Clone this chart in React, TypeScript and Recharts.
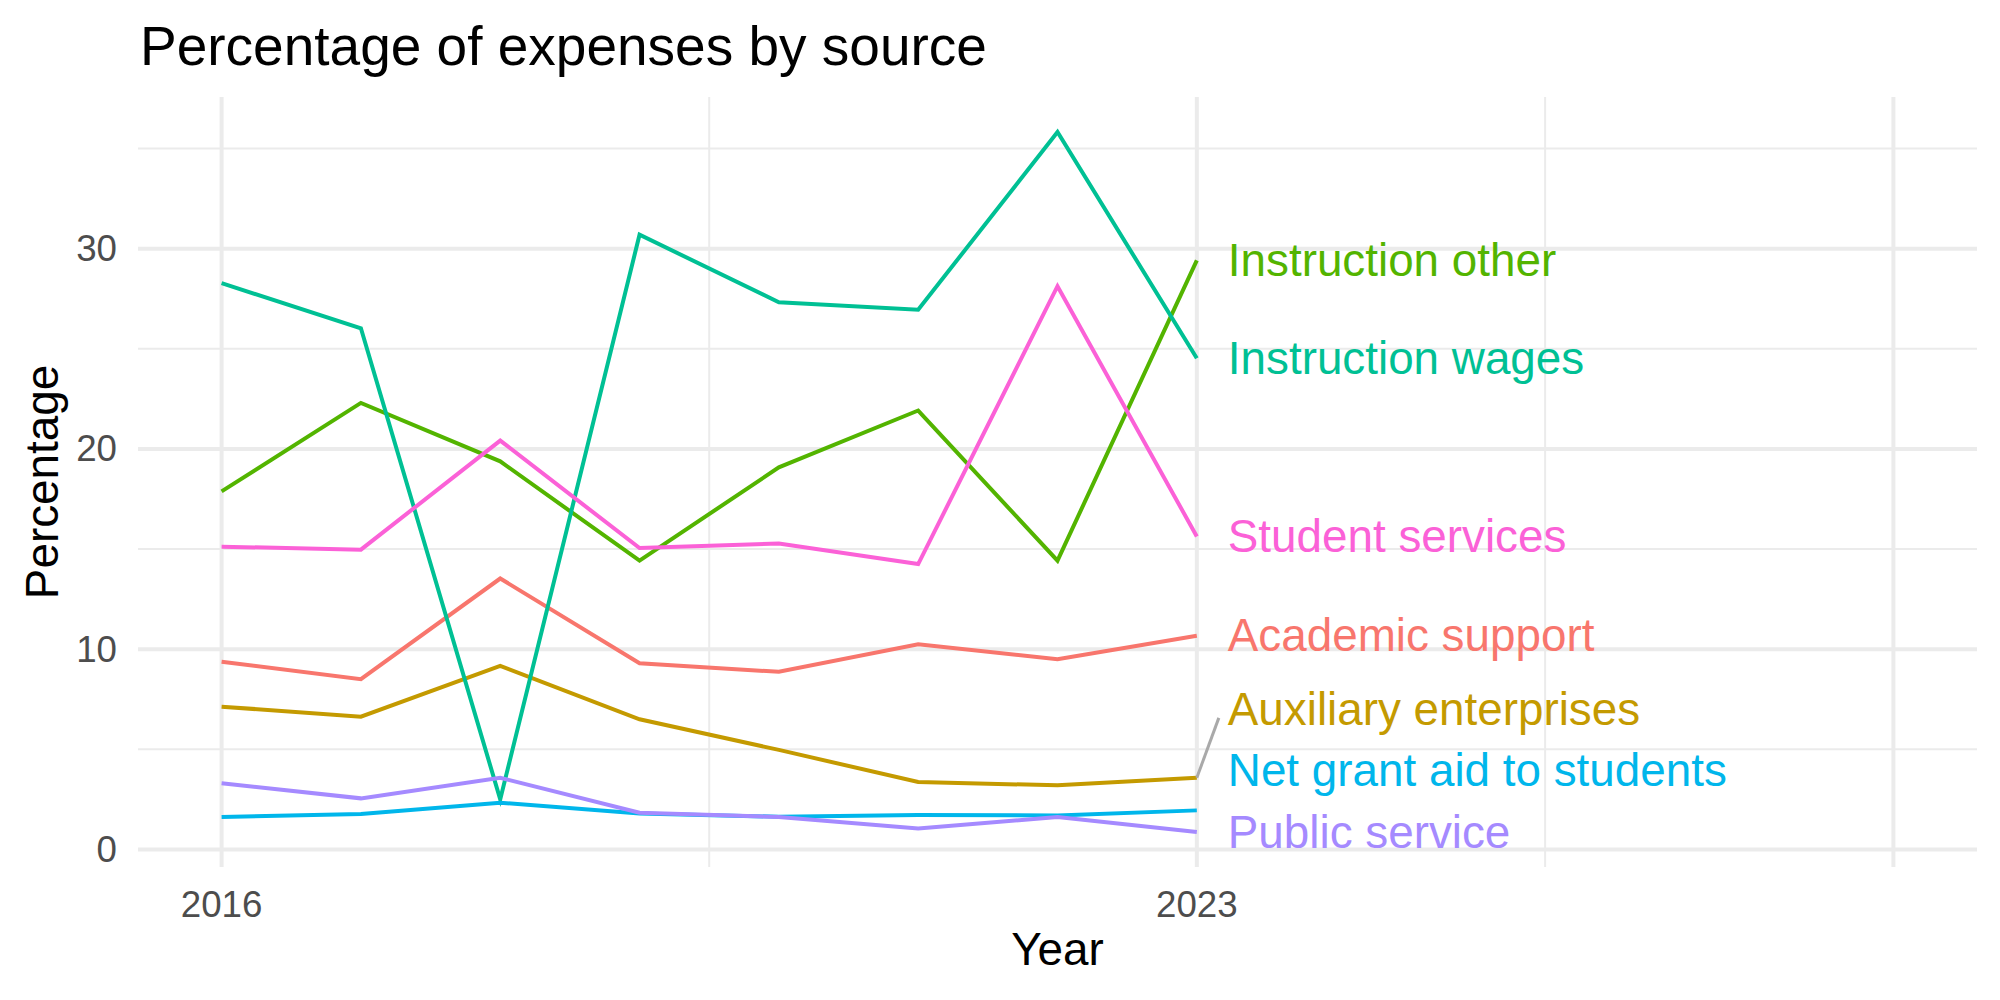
import React from "react";
import { LineChart, Line, XAxis, YAxis, CartesianGrid } from "recharts";

// Share of total expenses (%) per year, one array per source
const years = [2016, 2017, 2018, 2019, 2020, 2021, 2022, 2023];
const academicSupport = [9.37, 8.5, 13.53, 9.3, 8.87, 10.25, 9.5, 10.67];
const auxiliaryEnterprises = [7.13, 6.63, 9.17, 6.5, 4.97, 3.37, 3.2, 3.58];
const instructionOther = [17.88, 22.3, 19.38, 14.42, 19.08, 21.92, 14.42, 29.42];
const instructionWages = [28.28, 26.03, 2.5, 30.7, 27.33, 26.95, 35.83, 24.53];
const netGrantAid = [1.62, 1.77, 2.33, 1.8, 1.63, 1.72, 1.7, 1.95];
const publicService = [3.3, 2.55, 3.58, 1.83, 1.62, 1.05, 1.62, 0.87];
const studentServices = [15.12, 14.97, 20.42, 15.05, 15.28, 14.25, 28.13, 15.63];

const seriesNames = [
  "Academic support",
  "Auxiliary enterprises",
  "Instruction other",
  "Instruction wages",
  "Net grant aid to students",
  "Public service",
  "Student services",
];
const seriesValues = [
  academicSupport,
  auxiliaryEnterprises,
  instructionOther,
  instructionWages,
  netGrantAid,
  publicService,
  studentServices,
];
const seriesColors = ["#F8766D", "#C49A00", "#53B400", "#00C094", "#00B6EB", "#A58AFF", "#FB61D7"];

const xTickLabels = [2016, 2023];
const yTickLabels = [0, 10, 20, 30];
const xMajorGrid = [2016, 2023, 2028];
const xMinorGrid = [2019.5, 2025.5];
const yMajorGrid = [0, 10, 20, 30];
const yMinorGrid = [5, 15, 25, 35];

const W = 2000;
const H = 1000;
const PLOT_LEFT = 138;
const PLOT_TOP = 97;
const PLOT_RIGHT = 1977;
const PLOT_BOTTOM = 867;
const FONT = "'Liberation Sans', Arial, Helvetica, sans-serif";

// ggplot-style 5% expansion on both axes
const allValues = seriesValues.flat();
const vMin = Math.min(...allValues);
const vMax = Math.max(...allValues);
const yPad = (vMax - vMin) * 0.05;
const yDomain = [vMin - yPad, vMax + yPad];
const xLo = 2016;
const xHi = 2028;
const xPad = (xHi - xLo) * 0.05;
const xDomain = [xLo - xPad, xHi + xPad];
const PX_PER_UNIT = (PLOT_BOTTOM - PLOT_TOP) / (yDomain[1] - yDomain[0]);

const keys = seriesNames.map((_, i) => `s${i}`);
const data = years.map((year, r) => {
  const row: Record<string, number> = { year };
  seriesValues.forEach((vals, i) => {
    row[keys[i]] = vals[r];
  });
  return row;
});

// push end labels apart (bottom up) so they don't overlap
const MIN_GAP = 3.05;
const last = years.length - 1;
const labelY: number[] = seriesValues.map((v) => v[last]);
{
  const order = seriesValues.map((_, i) => i).sort((a, b) => labelY[a] - labelY[b]);
  let floor = -Infinity;
  order.forEach((i) => {
    labelY[i] = Math.max(labelY[i], floor + MIN_GAP);
    floor = labelY[i];
  });
}

const endLabel = (i: number) => (props: any) => {
  const { cx, cy, index } = props;
  if (index !== last || cx == null) return <g key={`d${i}-${index}`} />;
  const shift = -(labelY[i] - seriesValues[i][last]) * PX_PER_UNIT;
  return (
    <g key={`d${i}-${index}`}>
      {Math.abs(shift) > 50 && (
        <line x1={cx} y1={cy} x2={cx + 22} y2={cy + shift + 8} stroke="#A9A9A9" strokeWidth={3} />
      )}
      <text
        x={cx + 31}
        y={cy + shift}
        dominantBaseline="central"
        fontSize={45.8}
        fontFamily={FONT}
        fill={seriesColors[i]}
      >
        {seriesNames[i]}
      </text>
    </g>
  );
};

const XTick = (props: any) => {
  const { x, payload } = props;
  return (
    <text x={x} y={PLOT_BOTTOM + 50} textAnchor="middle" fontSize={36.7} fontFamily={FONT} fill="#4D4D4D">
      {payload.value}
    </text>
  );
};

const YTick = (props: any) => {
  const { y, payload } = props;
  return (
    <text
      x={PLOT_LEFT - 21}
      y={y}
      textAnchor="end"
      dominantBaseline="central"
      fontSize={36.7}
      fontFamily={FONT}
      fill="#4D4D4D"
    >
      {payload.value}
    </text>
  );
};

export default function App() {
  return (
    <div style={{ position: "absolute", left: 0, top: 0, width: W, height: H, background: "#fff" }}>
      <LineChart
        width={W}
        height={H}
        data={data}
        margin={{ top: PLOT_TOP, right: W - PLOT_RIGHT, bottom: 0, left: 0 }}
      >
        <CartesianGrid
          stroke="#EBEBEB"
          strokeWidth={2}
          horizontalValues={yMinorGrid}
          verticalValues={xMinorGrid}
        />
        <CartesianGrid
          stroke="#EBEBEB"
          strokeWidth={4}
          horizontalValues={yMajorGrid}
          verticalValues={xMajorGrid}
        />
        <XAxis
          type="number"
          dataKey="year"
          domain={xDomain}
          ticks={xTickLabels}
          height={H - PLOT_BOTTOM}
          axisLine={false}
          tickLine={false}
          tick={<XTick />}
          allowDataOverflow
        />
        <YAxis
          type="number"
          domain={yDomain}
          ticks={yTickLabels}
          width={PLOT_LEFT}
          axisLine={false}
          tickLine={false}
          tick={<YTick />}
          allowDataOverflow
        />
        {keys.map((k, i) => (
          <Line
            key={k}
            type="linear"
            dataKey={k}
            stroke={seriesColors[i]}
            strokeWidth={4}
            dot={endLabel(i)}
            activeDot={false}
            isAnimationActive={false}
          />
        ))}
      </LineChart>
      <svg
        width={W}
        height={H}
        style={{ position: "absolute", left: 0, top: 0, pointerEvents: "none" }}
      >
        <text x={140} y={65} fontSize={55} fontFamily={FONT} fill="#000">
          Percentage of expenses by source
        </text>
        <text
          x={(PLOT_LEFT + PLOT_RIGHT) / 2}
          y={965}
          textAnchor="middle"
          fontSize={45.8}
          fontFamily={FONT}
          fill="#000"
        >
          Year
        </text>
        <text
          transform={`translate(58, ${(PLOT_TOP + PLOT_BOTTOM) / 2}) rotate(-90)`}
          textAnchor="middle"
          fontSize={45.8}
          fontFamily={FONT}
          fill="#000"
        >
          Percentage
        </text>
      </svg>
    </div>
  );
}
